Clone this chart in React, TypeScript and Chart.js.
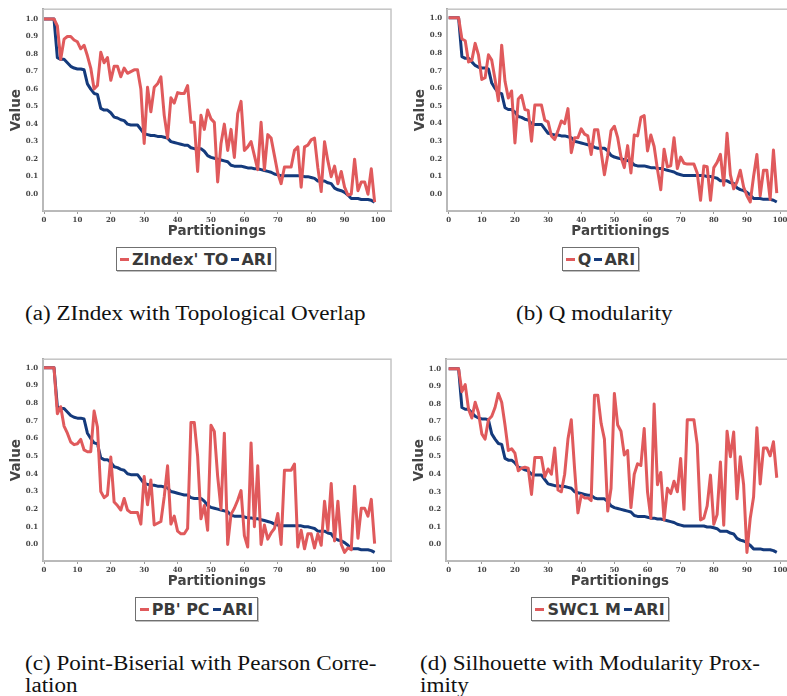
import React, { useEffect, useRef } from 'react';
import { Chart, registerables } from 'chart.js';

Chart.register(...registerables);

// ---------- data ----------
const X_TICKS = [0, 10, 20, 30, 40, 50, 60, 70, 80, 90, 100];
const Y_TICKS = [0, 0.1, 0.2, 0.3, 0.4, 0.5, 0.6, 0.7, 0.8, 0.9, 1.0];

const ARI = [
  1, 1, 1, 1, 0.78, 0.77, 0.77, 0.75, 0.73, 0.72,
  0.715, 0.715, 0.71, 0.63, 0.6, 0.575, 0.57, 0.49, 0.48, 0.48,
  0.465, 0.44, 0.435, 0.425, 0.42, 0.4, 0.395, 0.395, 0.395, 0.37,
  0.345, 0.34, 0.335, 0.335, 0.33, 0.33, 0.325, 0.32, 0.3, 0.295,
  0.29, 0.285, 0.28, 0.28, 0.265, 0.26, 0.26, 0.26, 0.245, 0.22,
  0.21, 0.205, 0.2, 0.195, 0.19, 0.185, 0.165, 0.16, 0.16, 0.16,
  0.155, 0.15, 0.15, 0.145, 0.145, 0.14, 0.135, 0.13, 0.125, 0.115,
  0.11, 0.105, 0.105, 0.105, 0.105, 0.105, 0.105, 0.105, 0.1, 0.1,
  0.095, 0.09, 0.075, 0.075, 0.075, 0.065, 0.06, 0.035, 0.025, 0.02,
  0.01, -0.005, -0.025, -0.025, -0.025, -0.03, -0.03, -0.03, -0.035, -0.045,
];

const ZINDEX_TO = [
  1, 1, 1, 1, 0.96, 0.77, 0.885, 0.9, 0.9, 0.88,
  0.87, 0.83, 0.85, 0.79, 0.72, 0.6, 0.62, 0.81, 0.75, 0.78,
  0.65, 0.73, 0.73, 0.67, 0.72, 0.69, 0.7, 0.71, 0.71, 0.6,
  0.29, 0.61, 0.47, 0.61, 0.63, 0.67, 0.45, 0.32, 0.55, 0.52,
  0.58, 0.575, 0.575, 0.62, 0.41, 0.41, 0.13, 0.45, 0.37, 0.48,
  0.43, 0.41, 0.07, 0.29, 0.4, 0.25, 0.37, 0.21, 0.46, 0.53,
  0.25, 0.27, 0.3, 0.22, 0.14, 0.41, 0.14, 0.34, 0.32, 0.22,
  0.12, 0.06, 0.155, 0.155, 0.155, 0.25, 0.27, 0.04, 0.27, 0.28,
  0.31, 0.32, 0.15, 0.015, 0.3, 0.19, 0.1, 0.16, 0.06, 0.13,
  0.04, -0.005, 0.0, 0.2, 0.02, 0.07, 0.07, 0.0, 0.145, -0.045,
];

const Q_MOD = [
  1, 1, 1, 1, 0.88, 0.87, 0.75, 0.76, 0.855, 0.79,
  0.65, 0.66, 0.79, 0.76, 0.65, 0.53, 0.845, 0.64, 0.545, 0.585,
  0.29, 0.54, 0.56, 0.48, 0.475, 0.3, 0.505, 0.505, 0.505, 0.42,
  0.41, 0.33, 0.31, 0.36, 0.415, 0.4, 0.485, 0.235, 0.32, 0.32,
  0.37, 0.34, 0.33, 0.225, 0.365, 0.365, 0.24, 0.11, 0.22, 0.36,
  0.385, 0.32, 0.21, 0.15, 0.275, 0.12, 0.335, 0.33, 0.435, 0.445,
  0.245, 0.335, 0.27, 0.14, 0.025, 0.255, 0.155, 0.16, 0.32, 0.145,
  0.21, 0.175, 0.17, 0.17, 0.17, 0.12, -0.035, 0.16, 0.155, -0.035,
  0.15, 0.18, 0.225, 0.05, 0.345, 0.11, 0.03, 0.07, 0.135, 0.04,
  -0.01, -0.045, 0.1, 0.225, -0.01, 0.135, 0.135, -0.03, 0.25, 0.005,
];

const PB_PC = [
  1, 1, 1, 1, 0.74, 0.78, 0.67, 0.63, 0.58, 0.565,
  0.57, 0.595, 0.535, 0.525, 0.525, 0.755, 0.665, 0.3, 0.265, 0.28,
  0.495, 0.24, 0.22, 0.195, 0.26, 0.195, 0.18, 0.18, 0.18, 0.115,
  0.385, 0.225, 0.365, 0.11, 0.12, 0.13, 0.27, 0.445, 0.115, 0.16,
  0.075, 0.06, 0.06, 0.09, 0.69, 0.69, 0.5, 0.145, 0.22, 0.08,
  0.675, 0.64, 0.385, 0.2, 0.63, 0.0, 0.17, 0.205, 0.25, 0.305,
  0.05, -0.015, 0.575, 0.1, 0.445, 0.0, 0.11, 0.03, 0.065, 0.09,
  0.175, 0.0, 0.42, 0.42, 0.42, 0.455, -0.015, 0.08, -0.025, 0.06,
  0.06, -0.02, 0.06, -0.005, 0.245, 0.08, 0.345, 0.02, 0.245, 0.0,
  -0.045, -0.02, -0.03, 0.33, 0.035, 0.205, 0.205, 0.16, 0.255, 0.005,
];

const SWC1_M = [
  1, 1, 1, 1, 0.87, 0.91, 0.77, 0.72, 0.81, 0.75,
  0.63, 0.6, 0.71, 0.73, 0.78, 0.86, 0.81, 0.68, 0.535, 0.545,
  0.52, 0.42, 0.435, 0.44, 0.435, 0.285, 0.495, 0.495, 0.495, 0.385,
  0.43, 0.4, 0.55, 0.31, 0.3, 0.4, 0.6, 0.71, 0.43, 0.18,
  0.28, 0.265, 0.265, 0.25, 0.85, 0.85, 0.69, 0.6, 0.19, 0.32,
  0.86, 0.68, 0.645, 0.51, 0.535, 0.21, 0.4, 0.46, 0.45, 0.66,
  0.3, 0.15, 0.8, 0.34, 0.41, 0.14, 0.32, 0.29, 0.36, 0.3,
  0.49, 0.2, 0.71, 0.71, 0.71, 0.57, 0.14, 0.15, 0.22, 0.395,
  0.115, 0.17, 0.47, 0.11, 0.645, 0.5, 0.64, 0.26, 0.5, 0.34,
  -0.045, 0.15, 0.27, 0.665, 0.345, 0.55, 0.55, 0.505, 0.585, 0.38,
];

// ---------- styles ----------
const RED = '#e05a5c';
const BLUE = '#143a7c';
const AXIS_GRAY = '#9a9a9a';
const TEXT_GRAY = '#444444';

const tickFont = { family: "'DejaVu Serif', serif", size: 7, weight: 'bold' as const };
const titleFont = { family: "'DejaVu Sans', sans-serif", size: 13.5, weight: 'bold' as const };

const framePlugin = {
  id: 'frame',
  beforeDatasetsDraw(chart: any) {
    const { ctx, chartArea } = chart;
    const { left, top, right, bottom } = chartArea;
    ctx.save();
    ctx.strokeStyle = '#c4c4c4';
    ctx.lineWidth = 1.5;
    ctx.strokeRect(left, top, right - left, bottom - top);
    ctx.restore();
  },
};

type PanelProps = {
  cx: number; cy: number;
  L: number; T: number; R: number; B: number;
  xMin: number; xMax: number; yMin: number; yMax: number;
  redLabel: string; red: number[];
};

const CW = 400;
const CH = 245;

function Panel(p: PanelProps) {
  const ref = useRef<HTMLCanvasElement | null>(null);
  useEffect(() => {
    if (!ref.current) return;
    const padTop = p.T - p.cy;
    const padRight = p.cx + CW - p.R;
    const yW = p.L - p.cx;
    const xH = p.cy + CH - p.B;
    const chart = new Chart(ref.current, {
      type: 'line',
      data: {
        datasets: [
          {
            label: p.redLabel,
            data: p.red.map((v, i) => ({ x: i, y: v })),
            borderColor: RED,
            backgroundColor: RED,
            borderWidth: 3,
            pointRadius: 0,
            tension: 0,
            borderJoinStyle: 'round',
          },
          {
            label: 'ARI',
            data: ARI.map((v, i) => ({ x: i, y: v })),
            borderColor: BLUE,
            backgroundColor: BLUE,
            borderWidth: 3,
            pointRadius: 0,
            tension: 0,
            borderJoinStyle: 'round',
          },
        ],
      },
      options: {
        animation: false,
        responsive: false,
        devicePixelRatio: 1,
        layout: { padding: { top: padTop, right: padRight, left: 0, bottom: 0 } },
        plugins: { legend: { display: false }, tooltip: { enabled: false } },
        scales: {
          x: {
            type: 'linear',
            min: p.xMin,
            max: p.xMax,
            afterBuildTicks: (s: any) => { s.ticks = X_TICKS.map((v) => ({ value: v })); },
            afterFit: (s: any) => { s.height = xH; },
            ticks: {
              font: tickFont, color: TEXT_GRAY, padding: 2, maxRotation: 0, autoSkip: false,
              callback: (v: any) => String(v),
            },
            grid: { display: true, drawOnChartArea: false, drawTicks: true, tickLength: 3, color: AXIS_GRAY, lineWidth: 1 },
            border: { display: true, color: AXIS_GRAY, width: 2 },
            title: { display: true, text: 'Partitionings', font: titleFont, color: TEXT_GRAY, padding: { top: 0, bottom: 5 } },
          },
          y: {
            type: 'linear',
            min: p.yMin,
            max: p.yMax,
            afterBuildTicks: (s: any) => { s.ticks = Y_TICKS.map((v) => ({ value: v })); },
            afterFit: (s: any) => { s.width = yW; },
            ticks: {
              font: tickFont, color: TEXT_GRAY, padding: 5,
              callback: (v: any) => Number(v).toFixed(1),
            },
            grid: { display: false, drawTicks: false },
            border: { display: true, color: AXIS_GRAY, width: 2 },
            title: { display: true, text: 'Value', font: titleFont, color: TEXT_GRAY, padding: { top: 8, bottom: 0 } },
          },
        },
      } as any,
      plugins: [framePlugin],
    });
    return () => chart.destroy();
  }, []);
  return (
    <canvas
      ref={ref}
      width={CW}
      height={CH}
      style={{ position: 'absolute', left: p.cx, top: p.cy, width: CW, height: CH }}
    />
  );
}

function LegendBox({ left, top, width, label }: { left: number; top: number; width: number; label: string }) {
  return (
    <div
      style={{
        position: 'absolute', left, top, width, height: 24, boxSizing: 'border-box',
        border: '1px solid #707070', boxShadow: '1px 1px 0 #c0c0c0', background: '#fff',
        display: 'flex', alignItems: 'center', justifyContent: 'center', whiteSpace: 'nowrap',
        fontFamily: "'DejaVu Sans', sans-serif", fontWeight: 'bold', fontSize: 16, color: '#3a3a3a',
      }}
    >
      <span style={{ display: 'inline-block', width: 9, height: 3, background: RED, marginRight: 3 }} />
      <span>{label}</span>
      <span style={{ display: 'inline-block', width: 8, height: 3, background: BLUE, margin: '0 2px 0 3px' }} />
      <span>ARI</span>
    </div>
  );
}

function Caption({ left, top, text }: { left: number; top: number; text: string }) {
  return (
    <div
      style={{
        position: 'absolute', left, top, whiteSpace: 'nowrap', lineHeight: '22px',
        fontFamily: "'Liberation Serif', serif", fontSize: 20, color: '#111',
        transform: 'scaleX(1.155)', transformOrigin: 'left center',
      }}
    >
      {text}
    </div>
  );
}

export default function App() {
  return (
    <div style={{ position: 'absolute', left: 0, top: 0, width: 787, height: 696, overflow: 'hidden', background: '#fff' }}>
      <Panel cx={0} cy={0} L={43} T={7} R={391} B={211} xMin={-0.3} xMax={103.9} yMin={-0.096} yMax={1.056} redLabel="ZIndex' TO" red={ZINDEX_TO} />
      <Panel cx={404} cy={0} L={447} T={8} R={794} B={211} xMin={-0.5} xMax={104.2} yMin={-0.096} yMax={1.049} redLabel="Q" red={Q_MOD} />
      <Panel cx={0} cy={350} L={43} T={359} R={391} B={561} xMin={-0.3} xMax={103.9} yMin={-0.094} yMax={1.049} redLabel="PB' PC" red={PB_PC} />
      <Panel cx={403} cy={350} L={446} T={358} R={794} B={561} xMin={-0.8} xMax={104.2} yMin={-0.094} yMax={1.055} redLabel="SWC1 M" red={SWC1_M} />

      <LegendBox left={116} top={247} width={160} label="ZIndex' TO" />
      <LegendBox left={562} top={247} width={77} label="Q" />
      <LegendBox left={135} top={597} width={123} label="PB' PC" />
      <LegendBox left={531} top={597} width={138} label="SWC1 M" />

      <Caption left={25} top={302} text="(a) ZIndex with Topological Overlap" />
      <Caption left={516} top={302} text="(b) Q modularity" />
      <Caption left={25} top={652} text="(c) Point-Biserial with Pearson Corre-" />
      <Caption left={25} top={674} text="lation" />
      <Caption left={420} top={652} text="(d) Silhouette with Modularity Prox-" />
      <Caption left={420} top={674} text="imity" />
    </div>
  );
}
